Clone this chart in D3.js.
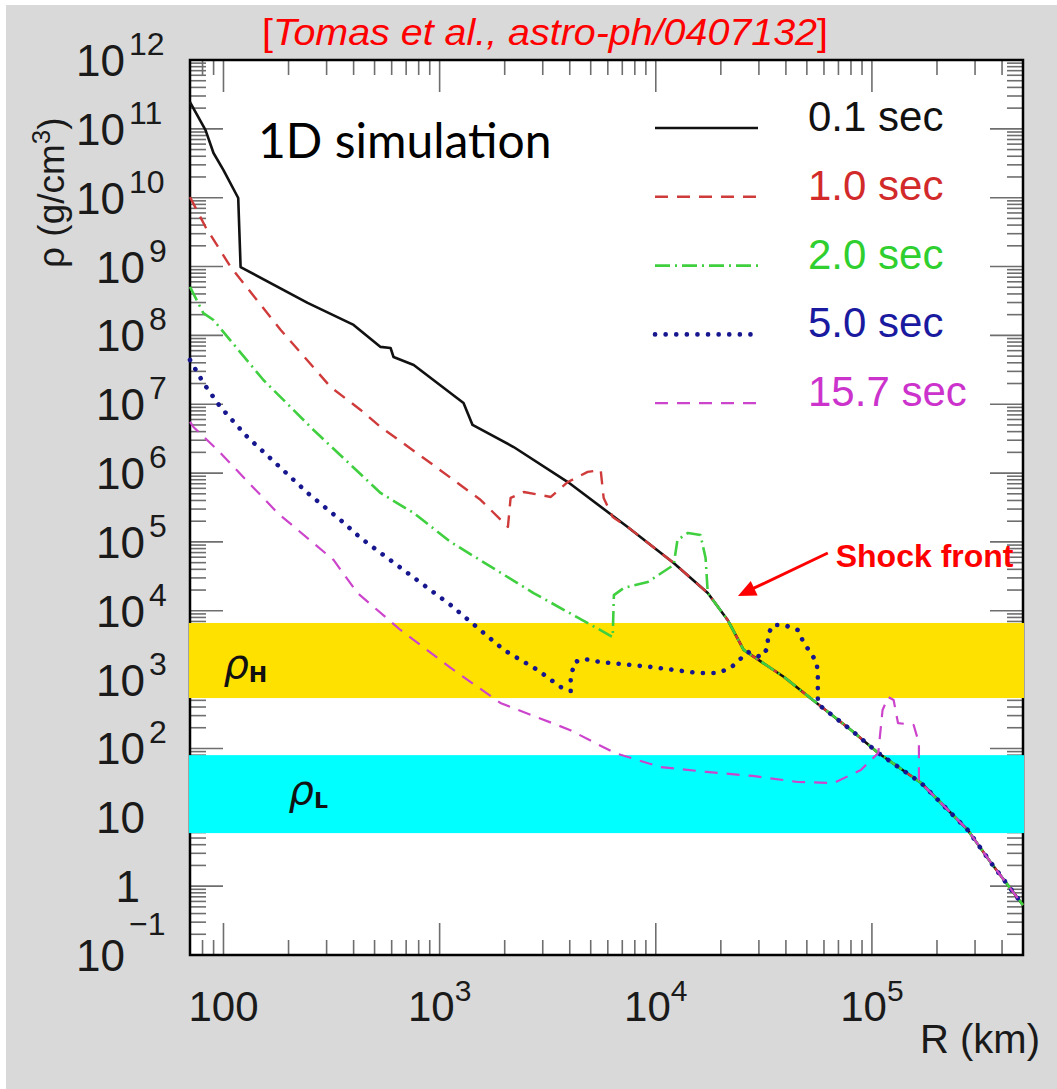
<!DOCTYPE html>
<html><head><meta charset="utf-8">
<script src="https://cdn.jsdelivr.net/npm/d3@7"></script>
<style>body{margin:0;background:#fff}</style>
</head><body>
<svg id="c" width="1057" height="1089"></svg>
<script>
// ---------- data (R in km, rho in g/cm^3) ----------
const outerProfile = [[1.74e4,1.81e4],[2.15e4,7.35e3],[2.55e4,2.70e3],[3.92e4,1.09e3],[5.62e4,443],[8.0e4,186],[1.07e5,86],[1.69e5,31.5],[2.78e5,6.5],[3.56e5,2.17],[5.0e5,0.53]];
const t01 = [[70,2.45e11],[82.6,9.6e10],[89.9,4.46e10],[100,2.52e10],[117,9.9e9],[120,9.84e8],[245,2.96e8],[400,1.42e8],[533,6.8e7],[593,6.56e7],[612,4.85e7],[759,3.72e7],[1290,1.04e7],[1420,5.0e6],[2200,2.39e6],[3920,7.4e5],[7410,1.65e5],[1.21e4,4.94e4]];
const t10 = [[70,1.02e10],[82.6,3.75e9],[108,9.84e8],[184,1.2e8],[313,1.78e7],[431,8.26e6],[533,4.68e6],[908,1.40e6],[1550,4.06e5],[2070,1.65e5],[2130,4.35e5],[2450,5.31e5],[3270,4.50e5],[3920,7.43e5],[4840,1.04e6],[5560,1.11e6],[5740,4.35e5],[6320,2.30e5],[7410,1.65e5],[1.21e4,4.94e4]];
const t20 = [[70,5.05e8],[80.7,2.11e8],[89.9,1.67e8],[153,2.25e7],[261,4.23e6],[533,5.14e5],[759,2.63e5],[1125,9.98e4],[2720,1.81e4],[6320,4.16e3],[6400,1.69e4],[7110,2.14e4],[9180,2.62e4],[1.21e4,4.62e4],[1.26e4,1.07e5],[1.41e4,1.35e5],[1.61e4,1.26e5],[1.70e4,5.85e4]];
const t50 = [[70,4.40e7],[80.7,2.04e7],[96.8,9.12e6],[129,3.34e6],[178,1.31e6],[245,5.14e5],[348,2.08e5],[431,1.14e5],[1125,1.21e4],[1980,2.70e3],[2840,1.38e3],[3630,782],[4040,684],[4040,1090],[4220,1800],[4650,2000],[5560,1800],[9480,1530],[1.56e4,1250],[1.94e4,1250],[2.22e4,1480],[2.67e4,2520],[3.06e4,2130],[3.30e4,2880],[3.30e4,4450],[3.48e4,6220],[3.92e4,6220],[4.54e4,5260],[4.84e4,3400],[5.22e4,2440],[5.56e4,1750],[5.62e4,1090],[5.62e4,662],[5.62e4,443]];
const t157 = [[70,5.52e6],[72.6,4.68e6],[93.8,2.17e6],[178,2.63e5],[323,5.47e4],[417,1.81e4],[659,5260],[1125,1480],[1910,458],[4000,186],[6460,86],[1.05e4,53.8],[1.72e4,45.6],[2.81e4,39.9],[4.54e4,32.6],[6.67e4,31.5],[8.89e4,48.8],[1.07e5,86],[1.12e5,362],[1.19e5,560],[1.26e5,507],[1.32e5,234],[1.56e5,219],[1.65e5,120],[1.65e5,34.8],[1.69e5,31.5]];

const seriesLabels = ["0.1 sec","1.0 sec","2.0 sec","5.0 sec","15.7 sec"];
const seriesData = [
  t01.concat(outerProfile),
  t10.concat(outerProfile),
  t20.concat(outerProfile),
  t50.concat(outerProfile.slice(5)),
  t157.concat(outerProfile.slice(8))
];
const rhoHBand = [540, 6650];
const rhoLBand = [5.9, 80];
const xDomain = [70, 5e5];
const yDomain = [0.1, 1e12];
const xTickValues = [100, 1e3, 1e4, 1e5];
const xTickLabels = [["100",""],["10","3"],["10","4"],["10","5"]];
const yTickExps = [-1,0,1,2,3,4,5,6,7,8,9,10,11,12];
const yTickLabels = [["10","\u22121"],["1",""],["10",""],["10","2"],["10","3"],["10","4"],["10","5"],["10","6"],["10","7"],["10","8"],["10","9"],["10","10"],["10","11"],["10","12"]];
const shockArrow = {tail:[6.25e4,6.9e4], tip:[2.4e4,1.64e4], text:[6.8e4, 4.3e4]};

// ---------- styles ----------
const colors = ["#111111","#cf3a3a","#3fcf3f","#16168f","#cc44cc"];
const textColors = ["#111111","#d22a2a","#2fcf2f","#1a1aa0","#cc33cc"];
const dashes = [null,"13,9","15,5,2,5","0.1,10.5","13,9"];
const widths = [2.6,2.4,2.6,4.6,2.2];
const caps = ["butt","butt","butt","round","butt"];

const svg = d3.select("#c");
const W=1057,H=1089;
svg.append("rect").attr("width",W).attr("height",H).attr("fill","#fff");
svg.append("rect").attr("x",6).attr("y",5).attr("width",W-6).attr("height",H-5).attr("fill","#d9d9d9");

const L=190,R=1023,T=60,B=955;
const x = d3.scaleLog().domain(xDomain).range([L,R]);
const y = d3.scaleLog().domain(yDomain).range([B,T]);

svg.append("rect").attr("x",L).attr("y",T).attr("width",R-L).attr("height",B-T).attr("fill","#fff");

// ticks
const tk = svg.append("g").attr("stroke","#6e6e6e").attr("stroke-width",1.6);
for (let d=1; d<=5; d++) for (let k=1;k<=9;k++){
  const v=k*Math.pow(10,d); if (v<xDomain[0]||v>xDomain[1]) continue;
  const len = k===1?32:15, px=x(v);
  tk.append("line").attr("x1",px).attr("x2",px).attr("y1",B).attr("y2",B-len);
  tk.append("line").attr("x1",px).attr("x2",px).attr("y1",T).attr("y2",T+len);
}
for (let d=-1; d<=12; d++) for (let k=1;k<=9;k++){
  const v=k*Math.pow(10,d); if (v<yDomain[0]*0.999||v>yDomain[1]*1.001) continue;
  const len = k===1?33:16, py=y(v);
  tk.append("line").attr("y1",py).attr("y2",py).attr("x1",L).attr("x2",L+len);
  tk.append("line").attr("y1",py).attr("y2",py).attr("x1",R).attr("x2",R-len);
}
// frame
svg.append("rect").attr("x",L).attr("y",T).attr("width",R-L).attr("height",B-T)
  .attr("fill","none").attr("stroke","#000").attr("stroke-width",2.5);

// bands
svg.append("rect").attr("x",L-1).attr("width",R-L+2).attr("y",y(rhoHBand[1])).attr("height",y(rhoHBand[0])-y(rhoHBand[1])).attr("fill","#ffe100");
svg.append("rect").attr("x",L-1).attr("width",R-L+2).attr("y",y(rhoLBand[1])).attr("height",y(rhoLBand[0])-y(rhoLBand[1])).attr("fill","#00ffff");

// band labels
function rhoLabel(xv, yv, sub){
  const t = svg.append("text").attr("x",x(xv)).attr("y",y(yv)).attr("font-family","'DejaVu Sans',sans-serif").attr("fill","#111");
  t.append("tspan").attr("font-size",40).attr("font-style","italic").text("\u03c1");
  t.append("tspan").attr("font-size",22).attr("font-weight","bold").attr("dy",4).text(sub);
}
rhoLabel(100, 1050, "H");
rhoLabel(200, 15.5, "L");

// curves
const line = d3.line().x(d=>x(d[0])).y(d=>y(d[1]));
seriesData.forEach((s,i)=>{
  svg.append("path").attr("d",line(s)).attr("fill","none").attr("stroke",colors[i])
    .attr("stroke-width",widths[i]).attr("stroke-dasharray",dashes[i]).attr("stroke-linecap",caps[i])
    .attr("stroke-linejoin","round");
});

// axis labels
const lf = "'Liberation Sans',Arial,sans-serif";
xTickValues.forEach((v,i)=>{
  const t = svg.append("text").attr("x",x(v)).attr("y",1021).attr("text-anchor","middle")
    .attr("font-family",lf).attr("font-size",42).attr("fill","#1a1a1a");
  t.append("tspan").text(xTickLabels[i][0]);
  if (xTickLabels[i][1]) t.append("tspan").attr("dy",-20).attr("font-size",30).text(xTickLabels[i][1]);
});
yTickExps.forEach((e,i)=>{
  const py = y(Math.pow(10,e));
  const [b,sup] = yTickLabels[i];
  const xb = b==="1"?140:(sup.length>1?125:145);
  svg.append("text").attr("x",xb).attr("y",py+16).attr("text-anchor","end")
    .attr("font-family",lf).attr("font-size",44).attr("fill","#1a1a1a").text(b);
  if (sup) svg.append("text").attr("x",xb+4).attr("y",py-(e<0?20:5))
    .attr("font-family",lf).attr("font-size",32).attr("fill","#1a1a1a").text(sup);
});
svg.append("text").attr("x",1040).attr("y",1053).attr("text-anchor","end")
  .attr("font-family",lf).attr("font-size",40).attr("fill","#1a1a1a").text("R (km)");
const yt = svg.append("text").attr("transform","translate(64,268) rotate(-90)").attr("text-anchor","start")
  .attr("font-family",lf).attr("font-size",37).attr("fill","#1a1a1a");
yt.append("tspan").text("\u03c1 (g/cm");
yt.append("tspan").attr("dy",-14).attr("font-size",26).text("3");
yt.append("tspan").attr("dy",14).text(")");

// title
const tt = svg.append("text").attr("x",262).attr("y",45).attr("font-family",lf).attr("font-size",37)
  .attr("fill","#ff0000").attr("textLength",566).attr("lengthAdjust","spacingAndGlyphs");
tt.append("tspan").text("[");
tt.append("tspan").attr("font-style","italic").text("Tomas et al., astro-ph/0407132");
tt.append("tspan").text("]");

// 1D simulation
svg.append("text").attr("x",258).attr("y",158).attr("font-family","'Comic Sans MS',Lato,sans-serif")
  .attr("font-size",48).attr("fill","#000").text("1D simulation");

// legend
const lg = svg.append("g");
seriesLabels.forEach((lab,i)=>{
  const ly = 128 + i*68.8;
  lg.append("line").attr("x1",655).attr("x2",758).attr("y1",ly).attr("y2",ly)
    .attr("stroke",colors[i]).attr("stroke-width",widths[i]).attr("stroke-dasharray",dashes[i]).attr("stroke-linecap",caps[i]);
  lg.append("text").attr("x",808).attr("y",ly+3).attr("font-family",lf).attr("font-size",42)
    .attr("fill",textColors[i]).text(lab);
});

// shock front annotation
svg.append("line").attr("x1",x(shockArrow.tail[0])).attr("y1",y(shockArrow.tail[1]))
  .attr("x2",x(shockArrow.tip[0])+10).attr("y2",y(shockArrow.tip[1])-5)
  .attr("stroke","#ff0000").attr("stroke-width",3);
{
  const tx=x(shockArrow.tip[0]), ty=y(shockArrow.tip[1]);
  const ang=Math.atan2(y(shockArrow.tail[1])-ty, x(shockArrow.tail[0])-tx);
  const len=18, hw=8;
  const bx=tx+len*Math.cos(ang), by=ty+len*Math.sin(ang);
  const p=[[tx,ty],[bx-hw*Math.sin(ang),by+hw*Math.cos(ang)],[bx+hw*Math.sin(ang),by-hw*Math.cos(ang)]];
  svg.append("polygon").attr("points",p.map(q=>q.join(",")).join(" ")).attr("fill","#ff0000");
}
svg.append("text").attr("x",x(shockArrow.text[0])).attr("y",y(shockArrow.text[1]))
  .attr("font-family",lf).attr("font-size",32).attr("font-weight","bold").attr("fill","#ff0000").text("Shock front");
</script>
</body></html>
